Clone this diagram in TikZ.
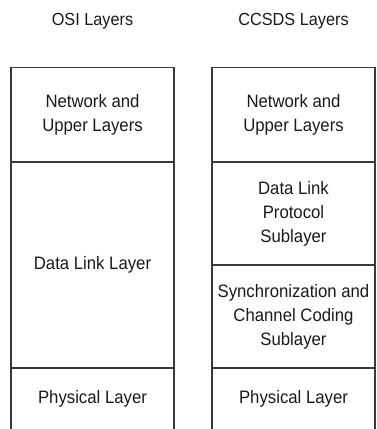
\documentclass[tikz,border=0pt]{standalone}
\usepackage{fontspec}
\setmainfont{Liberation Sans}[FakeStretch=0.93]
\usepackage{tikz}
\usepackage{xcolor}
\usetikzlibrary{
  positioning, calc,
}
\definecolor{cLine}{HTML}{3A3A3A}
\definecolor{cText}{HTML}{1A1A1A}

\tikzset{
  layerbox/.style={draw=cLine, line width=1.5pt, minimum width=163pt,
    inner sep=2pt, outer sep=0pt, align=center, text=cText,
    font=\fontsize{18}{24}\selectfont},
  openbox/.style={layerbox, draw=none},
  sidewall/.style={draw=cLine, line width=1.5pt},
  stacktitle/.style={text=cText, font=\fontsize{17.5}{24}\selectfont},
}

\begin{document}
\begin{tikzpicture}[x=1pt, y=1pt]
        \useasboundingbox (0, 0) rectangle (376, 429);
        \node[stacktitle] (osititle) at (92.5, 408) {OSI Layers};
        \node[stacktitle] (cctitle) at (293.5, 408) {CCSDS Layers};

        \node[layerbox, minimum height=94.5pt] (osinet) at (92.5, 314.25) {Network and\\Upper Layers};
        \node[layerbox, minimum height=206pt, below=0pt of osinet] (osidl) {Data Link Layer};
        \node[openbox, minimum height=61pt, below=0pt of osidl] (osiphy) {Physical Layer};
        \draw[sidewall] (osiphy.north west) -- (osiphy.south west);
        \draw[sidewall] (osiphy.north east) -- (osiphy.south east);

        \node[layerbox, minimum height=94.5pt] (ccnet) at (293.5, 314.25) {Network and\\Upper Layers};
        \node[layerbox, minimum height=103pt, below=0pt of ccnet] (ccdlp) {Data Link\\Protocol\\Sublayer};
        \node[layerbox, minimum height=103pt, below=0pt of ccdlp] (ccsync) {Synchronization and\\Channel Coding\\Sublayer};
        \node[openbox, minimum height=61pt, below=0pt of ccsync] (ccphy) {Physical Layer};
        \draw[sidewall] (ccphy.north west) -- (ccphy.south west);
        \draw[sidewall] (ccphy.north east) -- (ccphy.south east);
      \end{tikzpicture}
\end{document}
